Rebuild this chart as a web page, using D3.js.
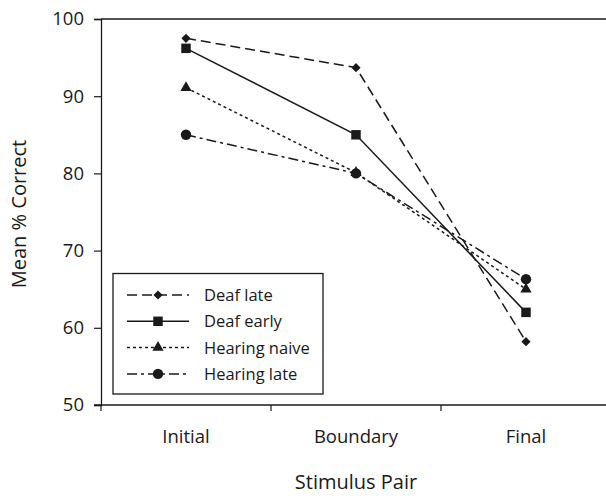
<!DOCTYPE html>
<html><head><meta charset="utf-8">
<script src="https://cdn.jsdelivr.net/npm/d3@7"></script>
<style>body{margin:0;background:#fff}svg{display:block;font-family:"Open Sans",sans-serif}</style>
</head><body>
<svg id="c" width="606" height="496"></svg>
<script>
const categories = ["Initial", "Boundary", "Final"];
const seriesNames = ["Deaf late", "Deaf early", "Hearing naive", "Hearing late"];
const deafLate = [97.5, 93.7, 58.2];
const deafEarly = [96.2, 85.0, 62.0];
const hearingNaive = [91.1, 80.1, 65.0];
const hearingLate = [85.0, 80.0, 66.3];
const yTicks = [50, 60, 70, 80, 90, 100];

const series = [
  {name: seriesNames[0], values: deafLate, dash: "10,5", marker: d3.symbolSquare, size: 42, rot: 45},
  {name: seriesNames[1], values: deafEarly, dash: null, marker: d3.symbolSquare, size: 90, rot: 0},
  {name: seriesNames[2], values: hearingNaive, dash: "3,3", marker: d3.symbolTriangle, size: 55, rot: 0},
  {name: seriesNames[3], values: hearingLate, dash: "10,4,3,4", marker: d3.symbolCircle, size: 85, rot: 0}
];

const svg = d3.select("#c");
const x = d3.scaleBand().domain(categories).range([101, 611]);
const y = d3.scaleLinear().domain([50, 100]).range([405, 19]);
const col = "#1a1a1a";

// y axis
const yAxis = svg.append("g").attr("transform", "translate(101,0)")
  .call(d3.axisLeft(y).tickValues(yTicks).tickSize(7).tickPadding(10));
yAxis.select(".domain").attr("stroke", col).attr("stroke-width", 1.3);
yAxis.selectAll(".tick line").attr("stroke", col).attr("stroke-width", 1.2);
yAxis.selectAll("text").attr("font-size", 18.5).attr("fill", col).attr("font-family", '"Open Sans",sans-serif');

// top frame line
svg.append("line").attr("x1", 101).attr("x2", 606).attr("y1", y(100)).attr("y2", y(100))
  .attr("stroke", col).attr("stroke-width", 1.5);

// x axis
const xAxis = svg.append("g").attr("transform", "translate(0,405)");
xAxis.append("line").attr("x1", 94).attr("x2", 606).attr("y1", 0).attr("y2", 0)
  .attr("stroke", col).attr("stroke-width", 1.5);
xAxis.selectAll(".xt").data(categories).enter().append("line")
  .attr("x1", d => x(d)).attr("x2", d => x(d)).attr("y1", 0).attr("y2", 6)
  .attr("stroke", col).attr("stroke-width", 1.2);
xAxis.selectAll(".xl").data(categories).enter().append("text")
  .attr("x", d => x(d) + x.bandwidth() / 2).attr("y", 38)
  .attr("text-anchor", "middle").attr("font-size", 18.5).attr("fill", col).text(d => d);

// axis titles
svg.append("text").attr("x", 356).attr("y", 489).attr("text-anchor", "middle")
  .attr("font-size", 20).attr("fill", col).text("Stimulus Pair");
svg.append("text").attr("transform", "translate(26,214) rotate(-90)").attr("text-anchor", "middle")
  .attr("font-size", 20).attr("fill", col).text("Mean % Correct");

// lines
const line = d3.line().x((d, i) => x(categories[i]) + x.bandwidth() / 2).y(d => y(d));
series.forEach(s => {
  svg.append("path").datum(s.values).attr("d", line).attr("fill", "none")
    .attr("stroke", col).attr("stroke-width", 1.5)
    .attr("stroke-dasharray", s.dash);
  svg.selectAll(null).data(s.values).enter().append("path")
    .attr("d", d3.symbol().type(s.marker).size(s.size))
    .attr("transform", (d, i) => `translate(${x(categories[i]) + x.bandwidth() / 2},${y(d)}) rotate(${s.rot})`)
    .attr("fill", col);
});

// legend
const lg = svg.append("g");
lg.append("rect").attr("x", 113).attr("y", 273.5).attr("width", 210).attr("height", 120.5)
  .attr("fill", "#fff").attr("stroke", col).attr("stroke-width", 1.3);
series.forEach((s, i) => {
  const cy = 295 + i * 26.3;
  lg.append("line").attr("x1", 127).attr("x2", 189).attr("y1", cy).attr("y2", cy)
    .attr("stroke", col).attr("stroke-width", 1.5).attr("stroke-dasharray", s.dash);
  lg.append("path").attr("d", d3.symbol().type(s.marker).size(s.size))
    .attr("transform", `translate(158,${cy}) rotate(${s.rot})`).attr("fill", col);
  lg.append("text").attr("x", 204).attr("y", cy + 6).attr("font-size", 16.5)
    .attr("fill", col).text(s.name);
});
</script>
</body></html>
